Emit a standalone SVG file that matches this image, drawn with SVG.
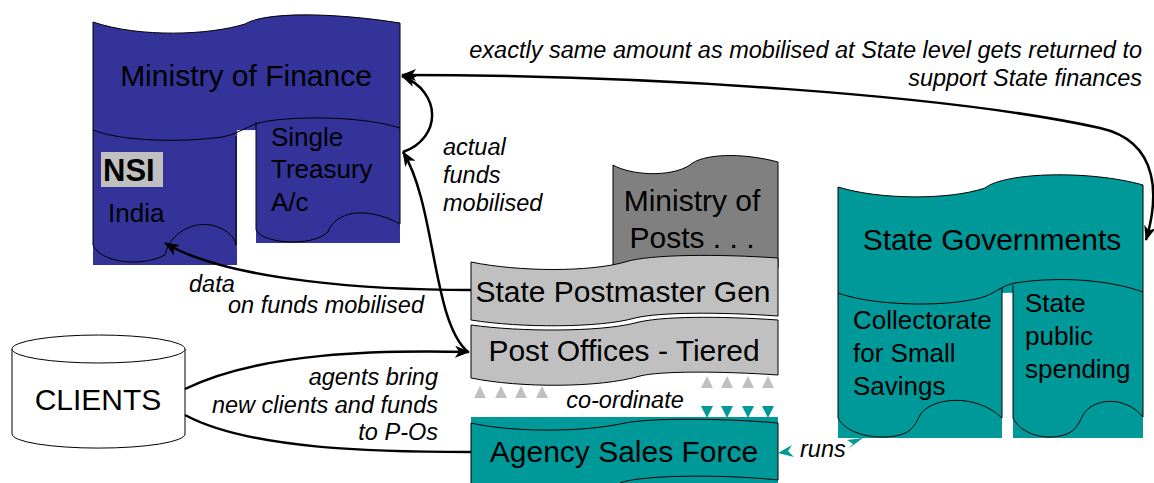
<svg xmlns="http://www.w3.org/2000/svg" width="1154" height="483" viewBox="0 0 1154 483">
<style>
.ol{stroke:#000;stroke-width:1;fill:none}
.blue{fill:#333399}
.teal{fill:#009999}
.lg{fill:#C0C0C0}
.dg{fill:#808080}
.t{font-family:"Liberation Sans",Arial,sans-serif;fill:#000}
.big{font-size:30px}
.mid{font-size:26px}
.lab{font-size:23.5px;font-style:italic}
.con{fill:none;stroke:#000;stroke-width:2.5}
</style>
<defs>
<marker id="ah" markerUnits="userSpaceOnUse" markerWidth="15" markerHeight="12" refX="14" refY="6" orient="auto">
<path d="M0,0 L15,6 L0,12 L4,6 z" fill="#000"/>
</marker>
<marker id="ahs" markerUnits="userSpaceOnUse" markerWidth="15" markerHeight="12" refX="14" refY="6" orient="auto-start-reverse">
<path d="M0,0 L15,6 L0,12 L4,6 z" fill="#000"/>
</marker>
</defs>

<g id="ministry-of-finance">
<path class="blue" d="M93,22 C140,38 210,35 245,24 C265,12 330,12 400,23 L400,128 L93,132 Z"/>
<rect class="blue" x="93" y="125" width="144" height="140"/>
<rect class="blue" x="256" y="118" width="144" height="125"/>
<path class="ol" d="M93,130 L93,22 C140,38 210,35 245,24 C265,12 330,12 400,23 L400,128"/>
<path class="ol" d="M93,130 C120,141 180,143 222,137 C240,134 248,124 268,121 C310,115 370,118 400,128"/>
<path class="ol" d="M93,130 L93,245 C100,262 140,268 165,255 C170,232 195,220 215,226 C228,230 235,238 236,245 L236,136"/>
<path class="ol" d="M256,122 L256,230 C262,243 310,248 328,232 C335,212 365,205 400,224 L400,128"/>
<text class="t big" x="246" y="86" text-anchor="middle">Ministry of Finance</text>
<rect x="101" y="152" width="62" height="35" fill="#C0C0C0"/>
<text class="t" x="103" y="181" font-size="31" font-weight="bold">NSI</text>
<text class="t mid" x="108" y="222">India</text>
<text class="t mid" x="271" y="146">Single</text>
<text class="t mid" x="271" y="178">Treasury</text>
<text class="t mid" x="271" y="211">A/c</text>
</g>

<g id="ministry-of-posts">
<path class="dg" d="M613,165 C630,175 670,178 690,165 C702,154 740,152 778,162 L778,268 L613,268 Z"/>
<path class="ol" d="M613,268 L613,165 C630,175 670,178 690,165 C702,154 740,152 778,162 L778,268"/>
<text class="t big" x="692" y="211" text-anchor="middle">Ministry of</text>
<text class="t big" x="692" y="248" text-anchor="middle">Posts . . .</text>
</g>

<g id="state-postmaster-gen">
<path class="lg" d="M471,262 C520,272 590,272 625,262 C650,254 720,254 778,258 L778,316 C720,312 660,312 635,318 C600,328 520,328 471,320 Z" stroke="#000" stroke-width="1"/>
<text class="t big" x="623" y="302" text-anchor="middle">State Postmaster Gen</text>
</g>

<g id="post-offices">
<path class="lg" d="M471,325 C520,332 600,332 635,323 C660,316 720,316 778,320 L778,375 C720,371 660,371 640,376 C600,388 520,388 471,378 Z" stroke="#000" stroke-width="1"/>
<text class="t big" x="624" y="361" text-anchor="middle">Post Offices - Tiered</text>
</g>

<g id="agency-sales-force">
<rect class="teal" x="471" y="417" width="307" height="66"/>
<path class="ol" d="M471,483 L471,423 C510,432 580,433 625,423 C650,418 720,418 778,423 L778,480"/>
<path class="ol" d="M620,483 C640,475 720,474 778,480"/>
<text class="t big" x="624" y="462" text-anchor="middle">Agency Sales Force</text>
</g>

<g id="state-governments">
<path class="teal" d="M838,187 C880,200 950,200 985,188 C1005,172 1090,170 1143,185 L1143,292 L838,294 Z"/>
<rect class="teal" x="838" y="288" width="164" height="150"/>
<rect class="teal" x="1013" y="282" width="130" height="156"/>
<path class="ol" d="M838,293 L838,187 C880,200 950,200 985,188 C1005,172 1090,170 1143,185 L1143,292"/>
<path class="ol" d="M838,293 C870,305 940,308 980,298 C995,294 1000,286 1015,283 C1060,276 1110,280 1143,292"/>
<path class="ol" d="M838,293 L838,418 C845,432 870,440 895,436 C912,433 915,425 920,415 C930,398 975,392 1002,418 L1002,288"/>
<path class="ol" d="M1013,285 L1013,418 C1020,432 1040,440 1060,436 C1075,433 1078,425 1083,415 C1093,398 1125,395 1143,417 L1143,292"/>
<text class="t big" x="992" y="250" text-anchor="middle">State Governments</text>
<text class="t mid" x="853" y="329">Collectorate</text>
<text class="t mid" x="853" y="362">for Small</text>
<text class="t mid" x="853" y="395">Savings</text>
<text class="t mid" x="1025" y="312">State</text>
<text class="t mid" x="1025" y="345">public</text>
<text class="t mid" x="1025" y="378">spending</text>
</g>

<g id="clients">
<path d="M12,349 L12,434 A86,14 0 0 0 185,434 L185,349" fill="#fff" stroke="#000" stroke-width="1"/>
<ellipse cx="98.5" cy="349" rx="86.5" ry="14" fill="#fff" stroke="#000" stroke-width="1"/>
<text class="t big" x="98" y="410" text-anchor="middle">CLIENTS</text>
</g>

<g id="coordination-marks">
<g fill="#C0C0C0">
<polygon points="480,386 474,398 486,398"/>
<polygon points="501,386 495,398 507,398"/>
<polygon points="521,386 515,398 527,398"/>
<polygon points="542,386 536,398 548,398"/>
<polygon points="707,376 701,388 713,388"/>
<polygon points="727,376 721,388 733,388"/>
<polygon points="748,376 742,388 754,388"/>
<polygon points="768,376 762,388 774,388"/>
</g>
<g fill="#009999">
<polygon points="701,406 713,406 707,418"/>
<polygon points="721,406 733,406 727,418"/>
<polygon points="742,406 754,406 748,418"/>
<polygon points="762,406 774,406 768,418"/>
<polygon points="778,453 792,445 788,451 794,457"/>
<polygon points="863,438 847,440 853,444 848,449"/>
</g>
</g>

<g id="connectors">
<path class="con" d="M185,389 C260,352 380,350 469,352" marker-end="url(#ah)"/>
<path class="con" d="M185,415 C250,450 380,452 471,452"/>
<path class="con" d="M471,290 C380,290 230,282 165,243" marker-end="url(#ah)"/>
<path class="con" d="M468,352 C432,322 436,205 403,152" marker-end="url(#ah)"/>
<path class="con" d="M403,152 C442,138 442,92 402,76" marker-end="url(#ah)"/>
<path class="con" d="M402,75 C650,75 950,95 1100,128 C1162,142 1158,200 1146,240" marker-start="url(#ahs)" marker-end="url(#ah)"/>
</g>

<g id="labels">
<text class="t lab" x="1142" y="58" text-anchor="end">exactly same amount as mobilised at State level gets returned to</text>
<text class="t lab" x="1142" y="86" text-anchor="end">support State finances</text>
<text class="t lab" x="443" y="155">actual</text>
<text class="t lab" x="443" y="183">funds</text>
<text class="t lab" x="443" y="211">mobilised</text>
<text class="t lab" x="189" y="292">data</text>
<text class="t lab" x="228" y="313">on funds mobilised</text>
<text class="t lab" x="438" y="385" text-anchor="end">agents bring</text>
<text class="t lab" x="438" y="413" text-anchor="end">new clients and funds</text>
<text class="t lab" x="438" y="440" text-anchor="end">to P-Os</text>
<text class="t lab" x="625" y="408" text-anchor="middle">co-ordinate</text>
<text class="t lab" x="800" y="457">runs</text>
</g>
</svg>
